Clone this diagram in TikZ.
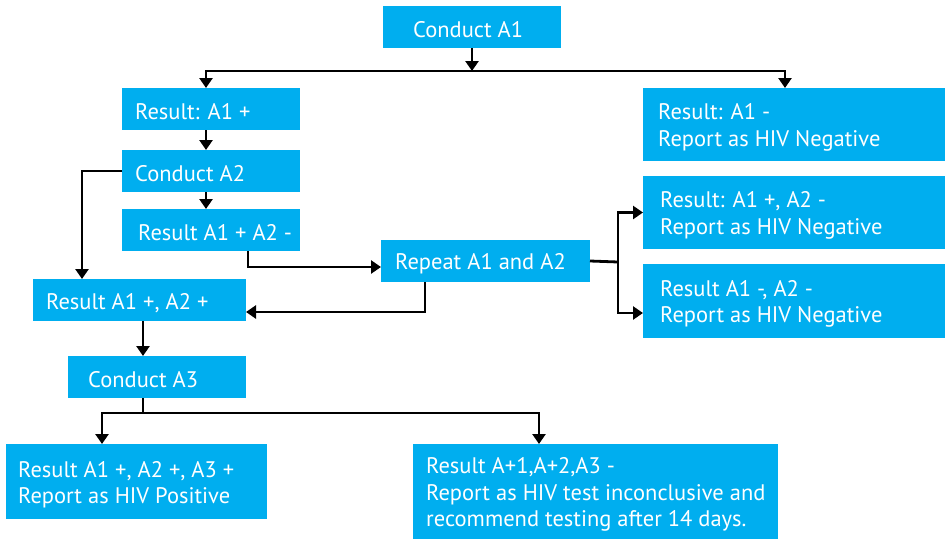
\documentclass[tikz,border=0pt]{standalone}
\usepackage{fontspec}
\setmainfont{PT Sans}
\usetikzlibrary{arrows.meta}
\definecolor{boxblue}{HTML}{00AEEF}
\tikzset{
  box/.style={fill=boxblue, draw=none, inner sep=0pt, outer sep=0pt, anchor=north west},
  txt/.style={text=white, anchor=west, align=left, inner sep=0pt, yshift=-3pt, font=\fontsize{22.5}{26.5}\selectfont},
  conn/.style={line width=2.8pt, draw=black},
  arr/.style={conn, -{Triangle[width=13pt,length=10pt]}},
}
\newcommand{\bx}[7]{%
  \node[box, minimum width=#4pt-#2pt, minimum height=#5pt-#3pt,
        label={[txt,xshift=#6pt]west:{#7}}] (#1) at (#2,#3) {};}
\begin{document}
\begin{tikzpicture}[x=1pt,y=-1pt]
\useasboundingbox (0,0) rectangle (945,539);
\bx{a1}{383}{6}{561}{48}{30}{Conduct A1}
\bx{r1}{122}{88}{300}{130}{13}{Result: A1 +}
\bx{a2}{122}{150}{300}{192}{13}{Conduct A2}
\bx{r2}{122}{209}{300}{251}{16}{Result A1 + A2 -}
\bx{rep}{381}{240}{590}{282}{14}{Repeat A1 and A2}
\bx{r3}{33}{279}{246}{321}{13}{Result A1 +, A2 +}
\bx{a3}{68}{356}{246}{398}{20}{Conduct A3}
\bx{pos}{6}{444}{267}{519}{12}{Result A1 +, A2 +, A3 +\\Report as HIV Positive}
\bx{inc}{413}{444}{778}{539}{13}{Result A+1,A+2,A3 -\\Report as HIV test inconclusive and\\recommend testing after 14 days.}
\bx{neg1}{643}{88}{945}{161}{15}{Result: A1 -\\Report as HIV Negative}
\bx{neg2}{643}{176}{945}{249}{17}{Result: A1 +, A2 -\\Report as HIV Negative}
\bx{neg3}{643}{264}{945}{338}{17}{Result A1 -, A2 -\\Report as HIV Negative}

\coordinate (j1) at (472,71);
\coordinate (j2) at (618,262);
\coordinate (j3) at (143,413);

\draw[arr] (a1.south) -- (j1);
\draw[arr] (j1) -| ([xshift=-5pt]r1.north);
\draw[arr] (j1) -| ([xshift=-9pt]neg1.north);
\draw[arr] ([xshift=-5pt]r1.south) -- ([xshift=-5pt]a2.north);
\draw[arr] ([xshift=-5pt]a2.south) -- ([xshift=-5pt]r2.north);
\draw[arr] (a2.west) -| ([xshift=49pt]r3.north west);
\draw[arr] ([xshift=126pt]r2.south west) |- ([yshift=-6pt]rep.west);
\draw[arr] ([xshift=44pt]rep.south west) |- ([yshift=-12pt]r3.east);
\draw[conn] (rep.east) -- (j2);
\draw[arr] (j2) |- (neg2.west);
\draw[arr] (j2) |- ([yshift=-12pt]neg3.west);
\draw[arr] ([xshift=110pt]r3.south west) -- ([xshift=75pt]a3.north west);
\draw[conn] ([xshift=75pt]a3.south west) -- (j3);
\draw[arr] (j3) -| ([xshift=96pt]pos.north west);
\draw[arr] (j3) -| ([xshift=126pt]inc.north west);
\end{tikzpicture}
\end{document}
